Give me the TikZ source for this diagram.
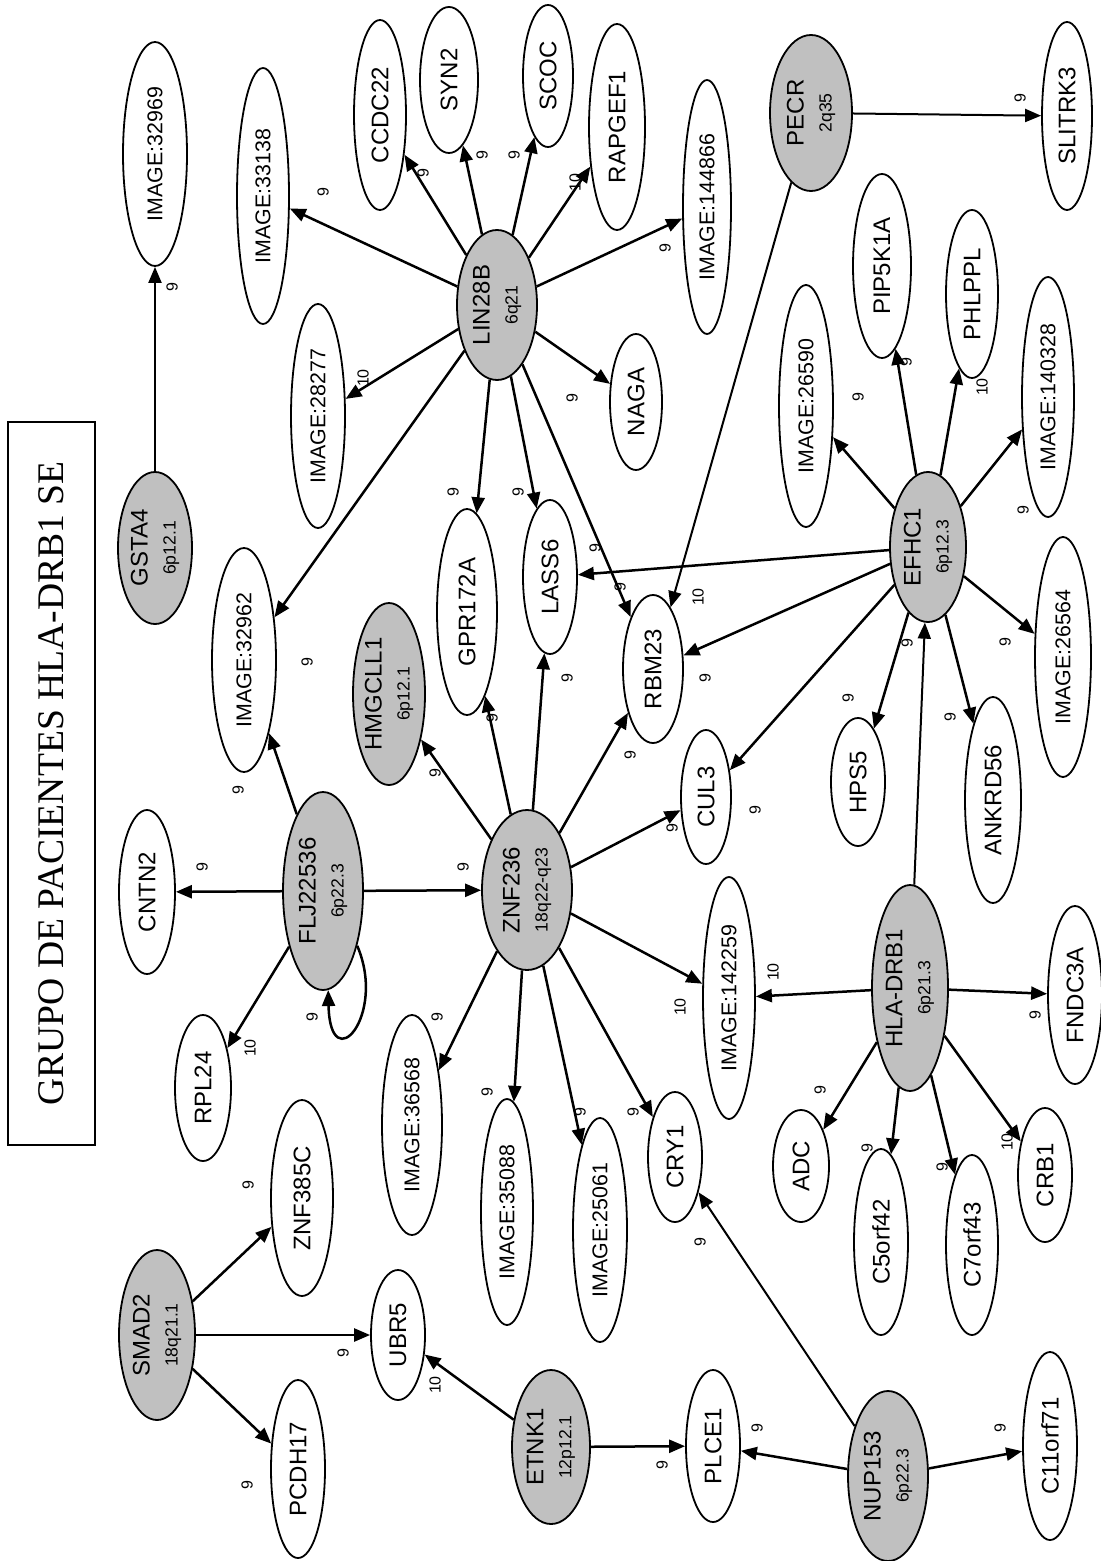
\documentclass[tikz,border=0pt]{standalone}
\usepackage{fontspec}
\setmainfont{Liberation Serif}
\setsansfont{Liberation Sans}
\usetikzlibrary{shapes.geometric,arrows.meta}
\definecolor{hubgray}{RGB}{192,192,192}
\tikzset{
  base/.style={ellipse, draw, line width=0.9pt, inner sep=0pt, rotate=90,
    font=\sffamily\fontsize{12}{14}\selectfont, align=center},
  gene/.style={base, fill=white},
  hub/.style={base, fill=hubgray},
  edge/.style={-{Triangle[length=8pt,width=6.5pt]}, line width=1.25pt},
  thin edge/.style={edge, line width=1pt},
  wt/.style={rotate=90, font=\sffamily\fontsize{8}{9}\selectfont, inner sep=0pt},
}
% gene node: name, x, y, half-width, half-height (px), label
\newcommand\gn[6]{\node[gene, minimum width=#5pt, minimum height=#4pt] (#1) at (#2,#3) {#6};}
% hub node with cytoband line
\newcommand\hn[7]{\node[hub, minimum width=#5pt, minimum height=#4pt] (#1) at (#2,#3) {#6\\{\fontsize{8.8}{10}\selectfont #7}};}
\newcommand\imgt[1]{{\fontsize{10.7}{12}\selectfont IMAGE:#1}}
% edge weight label
\newcommand\wl[4]{\node[wt] (#1) at (#2,#3) {#4};}
\begin{document}
\begin{tikzpicture}[x=0.5pt, y=-0.5pt]
\useasboundingbox (0,0) rectangle (1100,1561);
\fill[white] (0,0) rectangle (1100,1561);

% title
\node[draw, line width=0.6pt, rotate=90, inner sep=0pt, minimum width=361.5pt, minimum height=43.5pt,
  font=\rmfamily\fontsize{18.8}{20}\selectfont] (title) at (51.5,783.5) {GRUPO DE PACIENTES HLA-DRB1 SE};

% hub genes
\hn{GSTA4}{155}{548}{37}{76}{GSTA4}{6p12.1}
\hn{LIN28B}{497}{305}{40}{75}{LIN28B}{6q21}
\hn{PECR}{811}{113}{41}{78}{PECR}{2q35}
\hn{EFHC1}{928}{547}{38}{75}{EFHC1}{6p12.3}
\hn{HMGCLL1}{389}{694}{36}{91}{HMGCLL1}{6p12.1}
\hn{FLJ}{323}{891}{40}{99}{FLJ22536}{6p22.3}
\hn{ZNF236}{527}{890}{45}{80}{ZNF236}{18q22-q23}
\hn{HLA}{910}{988}{38}{103}{HLA-DRB1}{6p21.3}
\hn{SMAD2}{157}{1335}{38}{85}{SMAD2}{18q21.1}
\hn{ETNK1}{551}{1447}{39}{77}{ETNK1}{12p12.1}
\hn{NUP153}{888}{1476}{40}{85}{NUP153}{6p22.3}

% target genes
\gn{I32969}{155}{154}{32}{112}{\imgt{32969}}
\gn{I33138}{263}{196}{26}{128}{\imgt{33138}}
\gn{I28277}{318}{416}{27}{112}{\imgt{28277}}
\gn{CCDC22}{380}{115}{26}{95}{CCDC22}
\gn{SYN2}{449}{80}{29}{73}{SYN2}
\gn{SCOC}{548}{76}{25}{71}{SCOC}
\gn{RAPGEF1}{617}{127}{28}{103}{RAPGEF1}
\gn{I144866}{707}{207}{24}{127}{\imgt{144866}}
\gn{NAGA}{636}{402}{26}{68}{NAGA}
\gn{SLITRK3}{1067}{116}{25}{94}{SLITRK3}
\gn{PIP5K1A}{882}{266}{29}{92}{PIP5K1A}
\gn{PHLPPL}{972}{294}{26}{84}{PHLPPL}
\gn{I140328}{1048}{397}{26}{120}{\imgt{140328}}
\gn{I26590}{806}{406}{27}{121}{\imgt{26590}}
\gn{I26564}{1063}{657}{28}{120}{\imgt{26564}}
\gn{HPS5}{858}{782}{27}{64}{HPS5}
\gn{ANKRD56}{993}{800}{28}{103}{ANKRD56}
\gn{GPR172A}{467}{612}{30}{103}{GPR172A}
\gn{LASS6}{550}{577}{27}{77}{LASS6}
\gn{RBM23}{653}{669}{30}{74}{RBM23}
\gn{I32962}{244}{660}{32}{112}{\imgt{32962}}
\gn{CNTN2}{147}{892}{28}{82}{CNTN2}
\gn{RPL24}{203}{1088}{28}{73}{RPL24}
\gn{I36568}{412}{1125}{30}{110}{\imgt{36568}}
\gn{I35088}{507}{1212}{26}{113}{\imgt{35088}}
\gn{I25061}{600}{1230}{27}{112}{\imgt{25061}}
\gn{CRY1}{675}{1157}{27}{65}{CRY1}
\gn{CUL3}{706}{797}{25}{67}{CUL3}
\gn{I142259}{729}{998}{26}{121}{\imgt{142259}}
\gn{FNDC3A}{1075}{995}{27}{89}{FNDC3A}
\gn{ADC}{801}{1166}{28}{56}{ADC}
\gn{C5orf42}{881}{1242}{27}{93}{C5orf42}
\gn{C7orf43}{972}{1245}{26}{90}{C7orf43}
\gn{CRB1}{1045}{1175}{27}{67}{CRB1}
\gn{ZNF385C}{302}{1198}{31}{98}{ZNF385C}
\gn{PCDH17}{298}{1469}{27}{89}{PCDH17}
\gn{UBR5}{398}{1335}{27}{65}{UBR5}
\gn{PLCE1}{713}{1446}{27}{76}{PLCE1}
\gn{C11orf71}{1050}{1446}{27}{94}{C11orf71}

% connectors
\draw[thin edge] (GSTA4) -- (I32969);
\draw[edge] (LIN28B) -- (I33138);
\draw[edge] (LIN28B) -- (CCDC22);
\draw[edge] (LIN28B) -- (SYN2);
\draw[edge] (LIN28B) -- (SCOC);
\draw[edge] (LIN28B) -- (RAPGEF1);
\draw[edge] (LIN28B) -- (I144866);
\draw[edge] (LIN28B) -- (I28277);
\draw[edge] (LIN28B) -- (NAGA);
\draw[edge] (LIN28B) -- (GPR172A);
\draw[edge] (LIN28B) -- (LASS6);
\draw[edge] (LIN28B) -- (RBM23);
\draw[edge] (LIN28B) -- (I32962);
\draw[thin edge] (PECR) -- (SLITRK3);
\draw[thin edge] (PECR) -- (RBM23);
\draw[edge] (EFHC1) -- (I26590);
\draw[edge] (EFHC1) -- (PIP5K1A);
\draw[edge] (EFHC1) -- (PHLPPL);
\draw[edge] (EFHC1) -- (I140328);
\draw[edge] (EFHC1) -- (I26564);
\draw[edge] (EFHC1) -- (LASS6);
\draw[edge] (EFHC1) -- (RBM23);
\draw[edge] (EFHC1) -- (CUL3);
\draw[edge] (EFHC1) -- (HPS5);
\draw[edge] (EFHC1) -- (ANKRD56);
\draw[thin edge] (HLA) -- (EFHC1);
\draw[edge] (HLA) -- (I142259);
\draw[edge] (HLA) -- (FNDC3A);
\draw[edge] (HLA) -- (ADC);
\draw[edge] (HLA) -- (C5orf42);
\draw[edge] (HLA) -- (C7orf43);
\draw[edge] (HLA) -- (CRB1);
\draw[edge] (FLJ) -- (I32962);
\draw[edge] (FLJ) -- (CNTN2);
\draw[edge] (FLJ) -- (ZNF236);
\draw[edge] (FLJ) -- (RPL24);
\draw[edge] (FLJ.-148) .. controls +(30,70) and +(2,90) .. (FLJ.-177);
\draw[edge] (ZNF236) -- (HMGCLL1);
\draw[edge] (ZNF236) -- (GPR172A);
\draw[edge] (ZNF236) -- (LASS6);
\draw[edge] (ZNF236) -- (RBM23);
\draw[edge] (ZNF236) -- (CUL3);
\draw[edge] (ZNF236) -- (I142259);
\draw[edge] (ZNF236) -- (CRY1);
\draw[edge] (ZNF236) -- (I25061);
\draw[edge] (ZNF236) -- (I35088);
\draw[edge] (ZNF236) -- (I36568);
\draw[edge] (SMAD2) -- (ZNF385C);
\draw[edge] (SMAD2) -- (UBR5);
\draw[edge] (SMAD2) -- (PCDH17);
\draw[edge] (ETNK1) -- (UBR5);
\draw[edge] (ETNK1) -- (PLCE1);
\draw[edge] (NUP153) -- (PLCE1);
\draw[thin edge] (NUP153) -- (CRY1);
\draw[edge] (NUP153) -- (C11orf71);

% weights
\wl{w1}{172}{287}{9}
\wl{w2}{323}{192}{9}
\wl{w3}{423}{173}{9}
\wl{w4}{482}{155}{9}
\wl{w5}{514}{155}{9}
\wl{w6}{575}{183}{10}
\wl{w7}{665}{248}{9}
\wl{w8}{363}{378}{10}
\wl{w9}{572}{398}{9}
\wl{w10}{453}{492}{9}
\wl{w11}{518}{492}{9}
\wl{w12}{620}{587}{9}
\wl{w13}{307}{662}{9}
\wl{w14}{1020}{98}{9}
\wl{w15}{698}{597}{10}
\wl{w16}{858}{397}{9}
\wl{w17}{906}{362}{9}
\wl{w18}{982}{387}{10}
\wl{w19}{1023}{510}{9}
\wl{w20}{1005}{642}{9}
\wl{w21}{595}{548}{9}
\wl{w22}{705}{678}{9}
\wl{w23}{755}{810}{9}
\wl{w24}{848}{698}{9}
\wl{w25}{950}{717}{9}
\wl{w26}{907}{643}{9}
\wl{w27}{773}{972}{10}
\wl{w28}{1035}{1015}{9}
\wl{w29}{820}{1090}{9}
\wl{w30}{867}{1148}{9}
\wl{w31}{942}{1167}{9}
\wl{w32}{1007}{1142}{10}
\wl{w33}{238}{790}{9}
\wl{w34}{202}{867}{9}
\wl{w35}{463}{867}{9}
\wl{w36}{250}{1048}{10}
\wl{w37}{312}{1017}{9}
\wl{w38}{435}{773}{9}
\wl{w39}{492}{718}{9}
\wl{w40}{567}{678}{9}
\wl{w41}{630}{755}{9}
\wl{w42}{672}{828}{9}
\wl{w43}{680}{1007}{10}
\wl{w44}{633}{1112}{9}
\wl{w45}{580}{1112}{9}
\wl{w46}{487}{1092}{9}
\wl{w47}{437}{1017}{9}
\wl{w48}{248}{1185}{9}
\wl{w49}{343}{1353}{9}
\wl{w50}{247}{1485}{9}
\wl{w51}{435}{1385}{10}
\wl{w52}{662}{1465}{9}
\wl{w53}{757}{1428}{9}
\wl{w54}{700}{1242}{9}
\wl{w55}{1000}{1428}{9}
\end{tikzpicture}
\end{document}
